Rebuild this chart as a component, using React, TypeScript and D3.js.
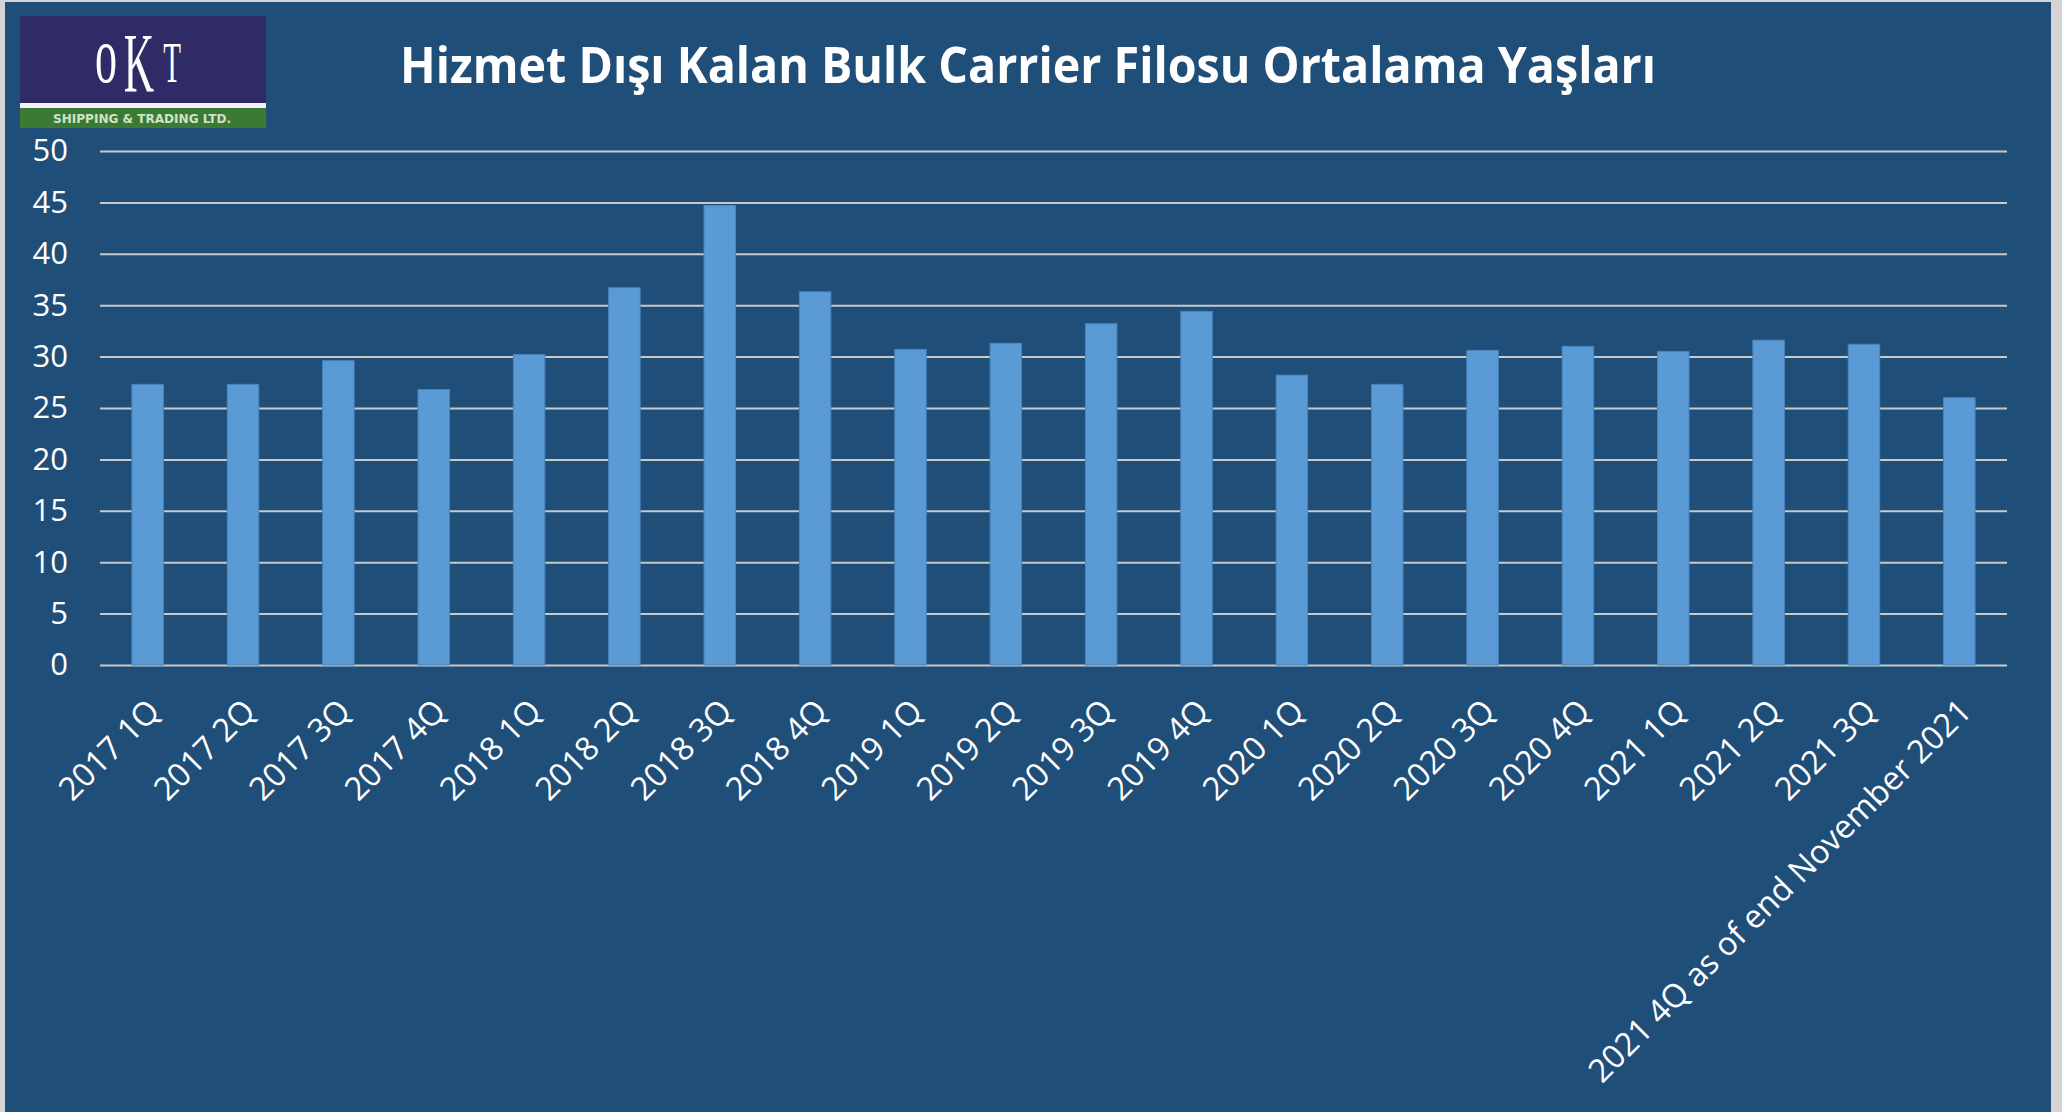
import React, { useRef, useEffect } from "react";
import * as d3 from "d3";

// quarters shown on the x axis
const categories = [
  "2017 1Q", "2017 2Q", "2017 3Q", "2017 4Q",
  "2018 1Q", "2018 2Q", "2018 3Q", "2018 4Q",
  "2019 1Q", "2019 2Q", "2019 3Q", "2019 4Q",
  "2020 1Q", "2020 2Q", "2020 3Q", "2020 4Q",
  "2021 1Q", "2021 2Q", "2021 3Q", "2021 4Q as of end November 2021",
];

// average age of scrapped bulk carriers (years)
const ages = [
  27.3, 27.3, 29.6, 26.8,
  30.2, 36.7, 44.7, 36.3,
  30.7, 31.3, 33.2, 34.4,
  28.2, 27.3, 30.6, 31.0,
  30.5, 31.6, 31.2, 26.0,
];

const yTicks = [0, 5, 10, 15, 20, 25, 30, 35, 40, 45, 50];

const title = "Hizmet Dışı Kalan Bulk Carrier Filosu Ortalama Yaşları";

export default function App() {
  const svgRef = useRef<SVGSVGElement>(null);

  useEffect(() => {
    const svg = d3.select(svgRef.current);
    svg.selectAll("*").remove();

    const width = 2062;
    const height = 1112;
    const margin = { top: 151, right: 55, bottom: 447, left: 100 };
    const innerW = width - margin.left - margin.right;
    const innerH = height - margin.top - margin.bottom;
    const font = "'Open Sans', sans-serif";

    svg.attr("width", width).attr("height", height);

    // outer frame + panel
    svg.append("rect").attr("width", width).attr("height", height).attr("fill", "#d4d4d4");
    svg.append("rect")
      .attr("x", 5).attr("y", 2)
      .attr("width", 2046).attr("height", height - 2)
      .attr("fill", "#1f4e79");

    const rows = categories.map((c, i) => ({ label: c, value: ages[i] }));

    const x = d3.scaleBand()
      .domain(categories)
      .range([0, innerW])
      .paddingInner(0.67)
      .paddingOuter(0.335);

    const y = d3.scaleLinear().domain([0, 50]).range([innerH, 0]);

    const g = svg.append("g").attr("transform", `translate(${margin.left},${margin.top})`);

    // gridlines + y labels
    const yAxis = g.append("g")
      .call(d3.axisLeft(y).tickValues(yTicks).tickSize(-innerW).tickPadding(32))
      .call((sel) => sel.select(".domain").remove());
    yAxis.selectAll(".tick line").attr("stroke", "#c9c9c9").attr("stroke-width", 2);
    yAxis.selectAll(".tick text")
      .attr("fill", "#ffffff")
      .attr("font-family", font)
      .attr("font-size", 31);

    // bars
    g.selectAll("rect.bar")
      .data(rows)
      .join("rect")
      .attr("class", "bar")
      .attr("x", (d) => x(d.label) || 0)
      .attr("y", (d) => y(d.value))
      .attr("width", x.bandwidth())
      .attr("height", (d) => innerH - y(d.value))
      .attr("fill", "#5b9bd5")
      .attr("stroke", "#4a85bd")
      .attr("stroke-width", 1);

    // rotated category labels
    g.selectAll("text.cat")
      .data(rows)
      .join("text")
      .attr("class", "cat")
      .attr("transform", (d) => {
        const cx = (x(d.label) || 0) + x.bandwidth() / 2 + 14;
        return `translate(${cx},${innerH + 48}) rotate(-45)`;
      })
      .attr("text-anchor", "end")
      .attr("fill", "#ffffff")
      .attr("font-family", font)
      .attr("font-size", 32.5)
      .text((d) => d.label);

    // title
    svg.append("text")
      .attr("x", 1028)
      .attr("y", 83)
      .attr("text-anchor", "middle")
      .attr("fill", "#ffffff")
      .attr("font-family", font)
      .attr("font-weight", 700)
      .attr("font-size", 50)
      .attr("textLength", 1256)
      .attr("lengthAdjust", "spacingAndGlyphs")
      .text(title);

    // logo
    const logo = svg.append("g");
    logo.append("rect").attr("x", 20).attr("y", 16).attr("width", 246).attr("height", 88).attr("fill", "#2e2b66");
    logo.append("rect").attr("x", 20).attr("y", 103).attr("width", 246).attr("height", 5).attr("fill", "#f2f2f2");
    logo.append("rect").attr("x", 20).attr("y", 108).attr("width", 246).attr("height", 20).attr("fill", "#3b7a35");
    const serif = "'Liberation Serif', serif";
    logo.append("text")
      .attr("transform", "translate(106,82) scale(0.55,1)")
      .attr("text-anchor", "middle")
      .attr("fill", "#ffffff").attr("font-family", serif).attr("font-size", 80)
      .text("o");
    logo.append("text")
      .attr("transform", "translate(139,92) scale(0.5,1)")
      .attr("text-anchor", "middle")
      .attr("fill", "#ffffff").attr("font-family", serif).attr("font-size", 84)
      .text("K");
    logo.append("text")
      .attr("transform", "translate(172,82) scale(0.5,1)")
      .attr("text-anchor", "middle")
      .attr("fill", "#ffffff").attr("font-family", serif).attr("font-size", 58)
      .text("T");
    logo.append("text")
      .attr("x", 142)
      .attr("y", 123)
      .attr("text-anchor", "middle")
      .attr("fill", "#cfe3c6")
      .attr("font-family", "'DejaVu Sans Condensed', 'DejaVu Sans', sans-serif")
      .attr("font-weight", 700)
      .attr("font-size", 13)
      .attr("textLength", 178)
      .attr("lengthAdjust", "spacingAndGlyphs")
      .text("SHIPPING & TRADING LTD.");
  }, []);

  return (
    <svg
      ref={svgRef}
      style={{ position: "fixed", top: 0, left: 0, display: "block" }}
    />
  );
}
